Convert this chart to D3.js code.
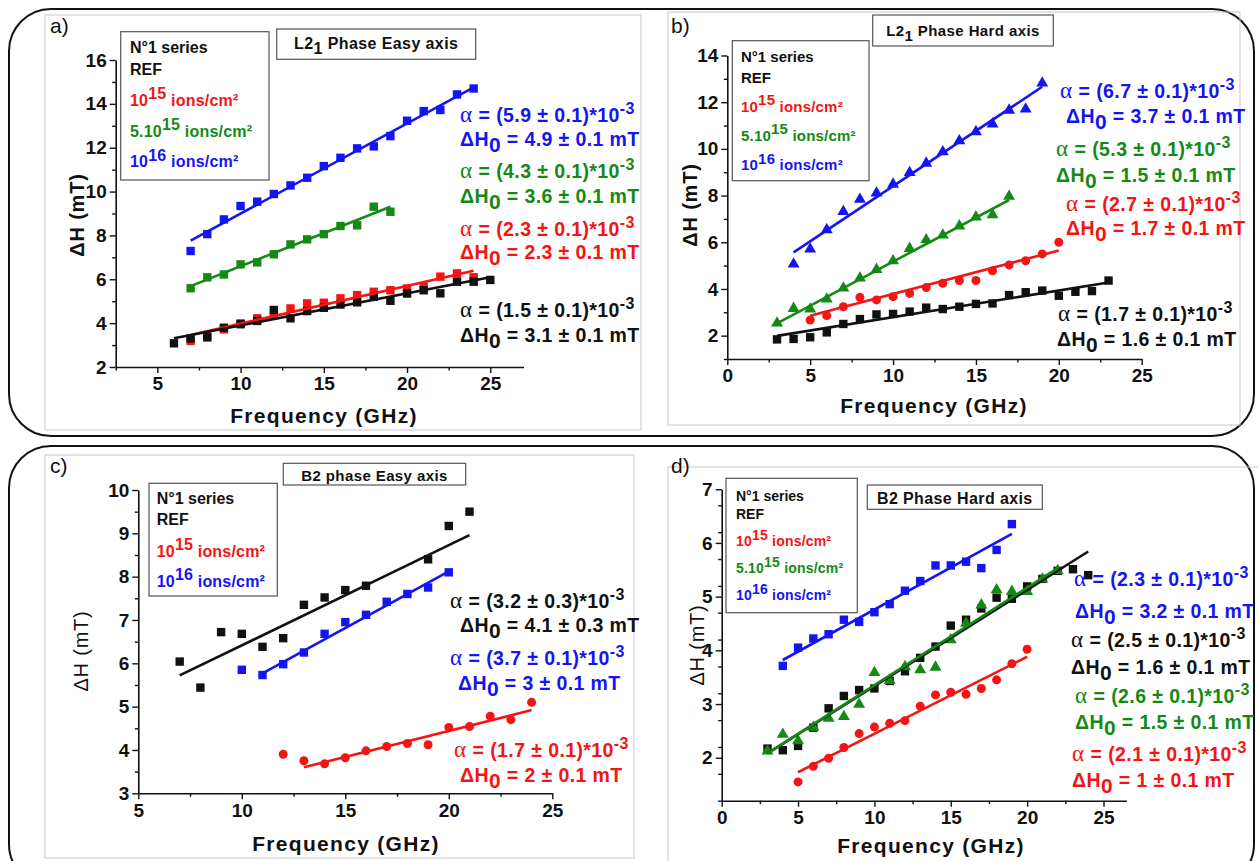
<!DOCTYPE html>
<html><head><meta charset="utf-8">
<script src="https://cdn.jsdelivr.net/npm/d3@7"></script>
<style>
body{margin:0;background:#fff}
svg{display:block}
text{font-family:Arial,"Liberation Sans",sans-serif}
</style>
</head><body>
<svg id="chart" width="1258" height="861"></svg>
<script>
// ---------------- DATA ----------------
// Panel a : L21 Phase Easy axis
const a_blue_f  = [7,8,9,10,11,12,13,14,15,16,17,18,19,20,21,22,23,24];
const a_blue_v  = [7.29,8.06,8.73,9.34,9.54,9.89,10.28,10.63,11.16,11.54,11.97,12.06,12.53,13.23,13.67,13.72,14.43,14.70];
const a_green_f = [7,8,9,10,11,12,13,14,15,16,17,18,19];
const a_green_v = [5.59,6.09,6.22,6.68,6.77,7.14,7.59,7.82,8.06,8.43,8.46,9.31,9.08];
const a_red_f   = [7,8,9,10,11,12,13,14,15,16,17,18,19,20,21,22,23,24];
const a_red_v   = [3.19,3.40,3.72,3.99,4.22,4.37,4.67,4.90,4.93,5.13,5.28,5.43,5.50,5.58,5.66,6.12,6.27,6.09];
const a_black_f = [6,7,8,9,10,11,12,13,14,15,16,17,18,19,20,21,22,23,24,25];
const a_black_v = [3.08,3.30,3.35,3.79,3.95,4.10,4.60,4.22,4.55,4.70,4.85,4.95,5.20,5.02,5.35,5.50,5.36,5.89,5.89,5.97];
// fit lines [f0, v0, f1, v1]
const a_blue_fit  = [7,7.76,24,14.75];
const a_green_fit = [7,5.69,19,9.31];
const a_red_fit   = [7,3.46,24,6.39];
const a_black_fit = [6,3.31,25,6.09];

// Panel b : L21 Phase Hard axis
const b_blue_f  = [4,5,6,7,8,9,10,11,12,13,14,15,16,17,18,19];
const b_blue_v  = [5.10,5.74,6.57,7.35,7.87,8.14,8.52,9.02,9.42,9.91,10.38,10.77,11.10,11.69,11.74,12.85];
const b_green_f = [3,4,5,6,7,8,9,10,11,12,13,14,15,16,17];
const b_green_v = [2.57,3.20,3.17,3.60,4.07,4.50,4.87,5.24,5.77,6.14,6.34,6.73,7.12,7.21,8.00];
const b_red_f   = [5,6,7,8,9,10,11,12,13,14,15,16,17,18,19,20];
const b_red_v   = [2.67,2.86,3.24,3.64,3.53,3.67,3.81,4.06,4.24,4.36,4.36,4.78,5.03,5.21,5.50,6.00];
const b_black_f = [3,4,5,6,7,8,9,10,11,12,13,14,15,16,17,18,19,20,21,22,23];
const b_black_v = [1.84,1.86,1.93,2.14,2.50,2.71,2.91,2.93,3.03,3.20,3.14,3.24,3.36,3.38,3.74,3.86,3.93,3.71,3.88,3.91,4.36];
const b_blue_fit  = [4,5.57,19,12.66];
const b_green_fit = [3,2.53,17,7.81];
const b_red_fit   = [5,2.85,20,5.65];
const b_black_fit = [3,1.99,23,4.28];

// Panel c : B2 phase Easy axis
const c_black_f = [7,8,9,10,11,12,13,14,15,16,19,20,21];
const c_black_v = [6.04,5.44,6.72,6.68,6.38,6.58,7.35,7.52,7.69,7.79,8.40,9.17,9.50];
const c_blue_f  = [10,11,12,13,14,15,16,17,18,19,20];
const c_blue_v  = [5.85,5.73,5.98,6.25,6.68,6.95,7.12,7.42,7.60,7.75,8.10];
const c_red_f   = [12,13,14,15,16,17,18,19,20,21,22,23,24];
const c_red_v   = [3.90,3.75,3.68,3.82,3.98,4.08,4.15,4.12,4.52,4.54,4.78,4.70,5.10];
const c_black_fit = [7,5.72,21,8.96];
const c_blue_fit  = [11,5.77,20,8.12];
const c_red_fit   = [13,3.60,24,4.92];

// Panel d : B2 Phase Hard axis
const d_blue_f  = [4,5,6,7,8,9,10,11,12,13,14,15,16,17,18,19];
const d_blue_v  = [3.71,4.05,4.22,4.30,4.57,4.53,4.71,4.86,5.11,5.29,5.58,5.58,5.65,5.53,5.87,6.35];
const d_black_f = [3,4,5,6,7,8,9,10,11,12,13,14,15,16,17,18,19,20,21,22,23,24];
const d_black_v = [2.17,2.14,2.22,2.56,2.92,3.15,3.26,3.29,3.43,3.61,3.86,4.07,4.46,4.57,4.78,4.98,4.96,5.19,5.33,5.48,5.51,5.40];
const d_green_f = [3,4,5,6,7,8,9,10,11,12,13,14,15,16,17,18,19,20,21,22];
const d_green_v = [2.14,2.45,2.33,2.58,2.75,2.78,3.01,3.60,3.45,3.71,3.65,3.70,4.21,4.52,4.86,5.14,5.11,5.11,5.34,5.50];
const d_red_f   = [5,6,7,8,9,10,11,12,13,14,15,16,17,18,19,20];
const d_red_v   = [1.55,1.84,1.99,2.19,2.45,2.57,2.64,2.69,2.96,3.17,3.22,3.18,3.29,3.45,3.75,4.02];
const d_blue_fit  = [4,3.82,19,6.17];
const d_black_fit = [3,2.08,24,5.84];
const d_green_fit = [3,2.08,22,5.53];
const d_red_fit   = [5,1.73,20,3.88];

// Tick values
const a_xTicks = [5,10,15,20,25],   a_yTicks = [2,4,6,8,10,12,14,16];
const b_xTicks = [0,5,10,15,20,25], b_yTicks = [2,4,6,8,10,12,14];
const c_xTicks = [5,10,15,20,25],   c_yTicks = [3,4,5,6,7,8,9,10];
const d_xTicks = [0,5,10,15,20,25], d_yTicks = [2,3,4,5,6,7];

// Fit results text
const a_alpha = ["(5.9 ± 0.1)","(4.3 ± 0.1)","(2.3 ± 0.1)","(1.5 ± 0.1)"];
const a_h0    = ["4.9 ± 0.1 mT","3.6 ± 0.1 mT","2.3 ± 0.1 mT","3.1 ± 0.1 mT"];
const b_alpha = ["(6.7 ± 0.1)","(5.3 ± 0.1)","(2.7 ± 0.1)","(1.7 ± 0.1)"];
const b_h0    = ["3.7 ± 0.1 mT","1.5 ± 0.1 mT","1.7 ± 0.1 mT","1.6 ± 0.1 mT"];
const c_alpha = ["(3.2 ± 0.3)","(3.7 ± 0.1)","(1.7 ± 0.1)"];
const c_h0    = ["4.1 ± 0.3 mT","3 ± 0.1 mT","2 ± 0.1 mT"];
const d_alpha = ["(2.3 ± 0.1)","(2.5 ± 0.1)","(2.6 ± 0.1)","(2.1 ± 0.1)"];
const d_h0    = ["3.2 ± 0.1 mT","1.6 ± 0.1 mT","1.5 ± 0.1 mT","1 ± 0.1 mT"];

// ---------------- STYLE ----------------
const COL = {blue:"#1414f5", red:"#f51414", green:"#148a14", black:"#111111"};
const SERIF = "'Liberation Serif','Times New Roman',serif";

const svg = d3.select("#chart");

// outer rounded frames
svg.append("rect").attr("x",9).attr("y",9).attr("width",1245).attr("height",427).attr("rx",42)
  .attr("fill","none").attr("stroke","#111").attr("stroke-width",2);
svg.append("rect").attr("x",9).attr("y",446).attr("width",1245).attr("height",440).attr("rx",42)
  .attr("fill","none").attr("stroke","#111").attr("stroke-width",2);

function rich(g, x, y, parts, opts){
  const t = g.append("text").attr("x",x).attr("y",y);
  Object.entries(opts||{}).forEach(([k,v])=>t.attr(k,v));
  let cur = 0;
  parts.forEach(p=>{
    const off = p.off||0;
    const ts = t.append("tspan").text(p.t).attr("dy", off-cur);
    cur = off;
    if(p.size) ts.attr("font-size", p.size);
    if(p.family) ts.attr("font-family", p.family);
    if(p.weight) ts.attr("font-weight", p.weight);
  });
  return t;
}

function drawPanel(P){
  const g = svg.append("g");
  g.append("rect").attr("x",P.frame[0]).attr("y",P.frame[1]).attr("width",P.frame[2]-P.frame[0])
    .attr("height",P.frame[3]-P.frame[1]).attr("fill","none").attr("stroke","#c8c8c8").attr("stroke-width",1);
  g.append("text").attr("x",P.label[0]).attr("y",P.label[1]).text(P.label[2])
    .attr("font-family",SERIF).attr("font-size",21).attr("fill","#111");

  const x = d3.scaleLinear().domain(P.xd).range(P.xr);
  const y = d3.scaleLinear().domain(P.yd).range(P.yr);

  const minorX = d3.range(P.xd[0], P.xd[1]+0.001, P.xMinorStep).filter(v=>!P.xTicks.includes(v));
  const minorY = d3.range(P.yd[0], P.yd[1]+0.001, P.yMinorStep).filter(v=>!P.yTicks.some(t=>Math.abs(t-v)<1e-6));

  const ax = g.append("g").attr("transform",`translate(0,${P.yr[0]})`)
    .call(d3.axisBottom(x).tickValues(P.xTicks).tickSize(6).tickSizeOuter(0).tickPadding(4).tickFormat(d3.format("d")));
  g.append("g").attr("transform",`translate(0,${P.yr[0]})`)
    .call(d3.axisBottom(x).tickValues(minorX).tickSize(3.5).tickSizeOuter(0).tickFormat(""))
    .select(".domain").remove();
  const ay = g.append("g").attr("transform",`translate(${P.xr[0]},0)`)
    .call(d3.axisLeft(y).tickValues(P.yTicks).tickSize(6).tickSizeOuter(0).tickPadding(3).tickFormat(d3.format("d")));
  g.append("g").attr("transform",`translate(${P.xr[0]},0)`)
    .call(d3.axisLeft(y).tickValues(minorY).tickSize(3.5).tickSizeOuter(0).tickFormat(""))
    .select(".domain").remove();
  g.selectAll(".domain").attr("stroke","#111").attr("stroke-width",1.6);
  g.selectAll(".tick line").attr("stroke","#111").attr("stroke-width",1.4);
  [ax,ay].forEach(a=>a.selectAll("text").attr("font-size",19).attr("font-weight","bold")
     .attr("font-family","Arial,'Liberation Sans',sans-serif").attr("fill","#111"));

  g.append("text").attr("x",P.xTitle[0]).attr("y",P.xTitle[1]).attr("text-anchor","middle")
    .attr("font-size",21).attr("font-weight","bold").attr("letter-spacing",1.3).attr("fill","#111")
    .text("Frequency (GHz)");
  g.append("text").attr("transform",`translate(${P.yTitle[0]},${P.yTitle[1]}) rotate(-90)`)
    .attr("text-anchor","middle").attr("font-size",20).attr("font-weight",P.yTitleWeight)
    .attr("letter-spacing",0.8).attr("fill","#111").text("ΔH (mT)");

  P.series.forEach(s=>{
    const pts = s.f.map((f,i)=>({f, v:s.v[i]}));
    const c = COL[s.color];
    const sg = g.append("g");
    if(s.shape==="square"){
      sg.selectAll("rect").data(pts).enter().append("rect")
        .attr("x",d=>x(d.f)-4.2).attr("y",d=>y(d.v)-4.2).attr("width",8.4).attr("height",8.4).attr("fill",c);
    } else if(s.shape==="circle"){
      sg.selectAll("circle").data(pts).enter().append("circle")
        .attr("cx",d=>x(d.f)).attr("cy",d=>y(d.v)).attr("r",4.5).attr("fill",c);
    } else {
      const tri = d3.symbol().type(d3.symbolTriangle).size(62);
      sg.selectAll("path").data(pts).enter().append("path")
        .attr("d",tri).attr("transform",d=>`translate(${x(d.f)},${y(d.v)+0.8})`).attr("fill",c);
    }
  });
  P.series.forEach(s=>{
    const fl = s.fit;
    g.append("line").attr("x1",x(fl[0])).attr("y1",y(fl[1])).attr("x2",x(fl[2])).attr("y2",y(fl[3]))
      .attr("stroke",COL[s.color]).attr("stroke-width",2.6);
  });

  const L = P.legend;
  g.append("rect").attr("x",L.box[0]).attr("y",L.box[1]).attr("width",L.box[2]-L.box[0]).attr("height",L.box[3]-L.box[1])
    .attr("fill","#fff").attr("stroke","#555").attr("stroke-width",1.2);
  const lf = L.size;
  rich(g, L.tx, L.ty[0], [{t:"N°1 series"}], {"font-size":lf,"font-weight":"bold","fill":"#111"});
  rich(g, L.tx, L.ty[1], [{t:"REF"}], {"font-size":lf,"font-weight":"bold","fill":"#111"});
  L.items.forEach((it,i)=>{
    rich(g, L.tx, L.ty[i+2], [{t:it.pre},{t:it.sup,off:-lf*0.42},{t:" ions/cm²",off:0}],
      {"font-size":lf,"font-weight":"bold","fill":COL[it.color],"letter-spacing":0.2});
  });

  const T = P.title;
  g.append("rect").attr("x",T.box[0]).attr("y",T.box[1]).attr("width",T.box[2]-T.box[0]).attr("height",T.box[3]-T.box[1])
    .attr("fill","#fff").attr("stroke","#555").attr("stroke-width",1.2);
  rich(g, (T.box[0]+T.box[2])/2, T.ty, T.parts, {"font-size":T.size,"font-weight":"bold","fill":"#111","text-anchor":"middle","letter-spacing":0.4});

  P.notes.forEach(n=>{
    rich(g, n.ax, n.ay, [{t:"α ",family:SERIF,weight:"normal",size:23},{t:"= "+n.alpha+"*10"},{t:"-3",off:-8,size:16}],
      {"font-size":19.5,"font-weight":"bold","fill":COL[n.color],"letter-spacing":0.4});
    rich(g, n.hx, n.hy, [{t:"ΔH"},{t:"0",off:6,size:21},{t:" = "+n.h0,off:0}],
      {"font-size":19.5,"font-weight":"bold","fill":COL[n.color],"letter-spacing":0.4});
  });
}

// ---------------- PANELS ----------------
drawPanel({
  frame:[45,15,641,430], label:[50,33,"a)"],
  xd:[2.5,27], xr:[115.7,523.6], yd:[2,16], yr:[367,60],
  xTicks:a_xTicks, yTicks:a_yTicks, xMinorStep:2.5, yMinorStep:1,
  xTitle:[324,423], yTitle:[84,215], yTitleWeight:"bold",
  series:[
    {color:"blue",shape:"square",f:a_blue_f,v:a_blue_v,fit:a_blue_fit},
    {color:"green",shape:"square",f:a_green_f,v:a_green_v,fit:a_green_fit},
    {color:"red",shape:"square",f:a_red_f,v:a_red_v,fit:a_red_fit},
    {color:"black",shape:"square",f:a_black_f,v:a_black_v,fit:a_black_fit}],
  legend:{box:[120.7,31.7,269,180], tx:130, ty:[53.3,75,106,136.7,167.3], size:16,
    items:[{color:"red",pre:"10",sup:"15"},{color:"green",pre:"5.10",sup:"15"},{color:"blue",pre:"10",sup:"16"}]},
  title:{box:[276.7,29,475.7,59.3], ty:49, size:16, parts:[{t:"L2"},{t:"1",off:5},{t:" Phase Easy axis",off:0}]},
  notes:[
    {color:"blue", alpha:a_alpha[0], h0:a_h0[0], ax:460, ay:122, hx:460, hy:146},
    {color:"green",alpha:a_alpha[1], h0:a_h0[1], ax:460, ay:178, hx:460, hy:203},
    {color:"red",  alpha:a_alpha[2], h0:a_h0[2], ax:460, ay:236, hx:460, hy:259},
    {color:"black",alpha:a_alpha[3], h0:a_h0[3], ax:460, ay:317, hx:460, hy:342}]
});

drawPanel({
  frame:[668,12,1240,425], label:[671,33,"b)"],
  xd:[0,25], xr:[727.3,1141.7], yd:[1,14], yr:[359,55.5],
  xTicks:b_xTicks, yTicks:b_yTicks, xMinorStep:2.5, yMinorStep:1,
  xTitle:[934,413], yTitle:[697,205], yTitleWeight:"bold",
  series:[
    {color:"blue",shape:"triangle",f:b_blue_f,v:b_blue_v,fit:b_blue_fit},
    {color:"green",shape:"triangle",f:b_green_f,v:b_green_v,fit:b_green_fit},
    {color:"red",shape:"circle",f:b_red_f,v:b_red_v,fit:b_red_fit},
    {color:"black",shape:"square",f:b_black_f,v:b_black_v,fit:b_black_fit}],
  legend:{box:[732.3,40.7,869,180.7], tx:741, ty:[61.7,82.7,111.7,140.7,170], size:15,
    items:[{color:"red",pre:"10",sup:"15"},{color:"green",pre:"5.10",sup:"15"},{color:"blue",pre:"10",sup:"16"}]},
  title:{box:[872.7,15,1053.3,46], ty:36, size:15, parts:[{t:"L2"},{t:"1",off:5},{t:" Phase Hard axis",off:0}]},
  notes:[
    {color:"blue", alpha:b_alpha[0], h0:b_h0[0], ax:1060, ay:98,  hx:1066, hy:123},
    {color:"green",alpha:b_alpha[1], h0:b_h0[1], ax:1056, ay:156, hx:1056, hy:182},
    {color:"red",  alpha:b_alpha[2], h0:b_h0[2], ax:1066, ay:211, hx:1066, hy:235},
    {color:"black",alpha:b_alpha[3], h0:b_h0[3], ax:1058, ay:321, hx:1057, hy:346}]
});

drawPanel({
  frame:[45,455,634,858], label:[50,473,"c)"],
  xd:[5,25], xr:[138.3,552.3], yd:[3,10], yr:[793.3,490],
  xTicks:c_xTicks, yTicks:c_yTicks, xMinorStep:2.5, yMinorStep:0.5,
  xTitle:[346,851], yTitle:[88,651], yTitleWeight:"normal",
  series:[
    {color:"black",shape:"square",f:c_black_f,v:c_black_v,fit:c_black_fit},
    {color:"blue",shape:"square",f:c_blue_f,v:c_blue_v,fit:c_blue_fit},
    {color:"red",shape:"circle",f:c_red_f,v:c_red_v,fit:c_red_fit}],
  legend:{box:[149,483.3,277.3,596], tx:156.7, ty:[504.3,525,556.7,586.7], size:16,
    items:[{color:"red",pre:"10",sup:"15"},{color:"blue",pre:"10",sup:"16"}]},
  title:{box:[283.3,463.3,465.7,485], ty:480.5, size:15, parts:[{t:"B2 phase Easy axis"}]},
  notes:[
    {color:"black",alpha:c_alpha[0], h0:c_h0[0], ax:450, ay:608, hx:460, hy:632},
    {color:"blue", alpha:c_alpha[1], h0:c_h0[1], ax:450, ay:665, hx:458, hy:690},
    {color:"red",  alpha:c_alpha[2], h0:c_h0[2], ax:454, ay:757, hx:460, hy:782}]
});

drawPanel({
  frame:[668,467,1262,866], label:[671,473,"d)"],
  xd:[0,26.5], xr:[721.7,1126.4], yd:[1.2,7], yr:[800.7,489.2],
  xTicks:d_xTicks, yTicks:d_yTicks, xMinorStep:2.5, yMinorStep:0.5,
  xTitle:[931,853], yTitle:[704,645], yTitleWeight:"normal",
  series:[
    {color:"blue",shape:"square",f:d_blue_f,v:d_blue_v,fit:d_blue_fit},
    {color:"black",shape:"square",f:d_black_f,v:d_black_v,fit:d_black_fit},
    {color:"green",shape:"triangle",f:d_green_f,v:d_green_v,fit:d_green_fit},
    {color:"red",shape:"circle",f:d_red_f,v:d_red_v,fit:d_red_fit}],
  legend:{box:[726,478.3,857.3,612.7], tx:736, ty:[501,519,546,572.7,600], size:14,
    items:[{color:"red",pre:"10",sup:"15"},{color:"green",pre:"5.10",sup:"15"},{color:"blue",pre:"10",sup:"16"}]},
  title:{box:[867.3,485,1042.3,509.3], ty:503.5, size:16, parts:[{t:"B2 Phase Hard axis"}]},
  notes:[
    {color:"blue", alpha:d_alpha[0], h0:d_h0[0], ax:1074, ay:586, hx:1075, hy:618},
    {color:"black",alpha:d_alpha[1], h0:d_h0[1], ax:1071, ay:647, hx:1071, hy:674},
    {color:"green",alpha:d_alpha[2], h0:d_h0[2], ax:1075, ay:703, hx:1075, hy:729},
    {color:"red",  alpha:d_alpha[3], h0:d_h0[3], ax:1072, ay:761, hx:1072, hy:787}]
});
</script>
</body></html>
